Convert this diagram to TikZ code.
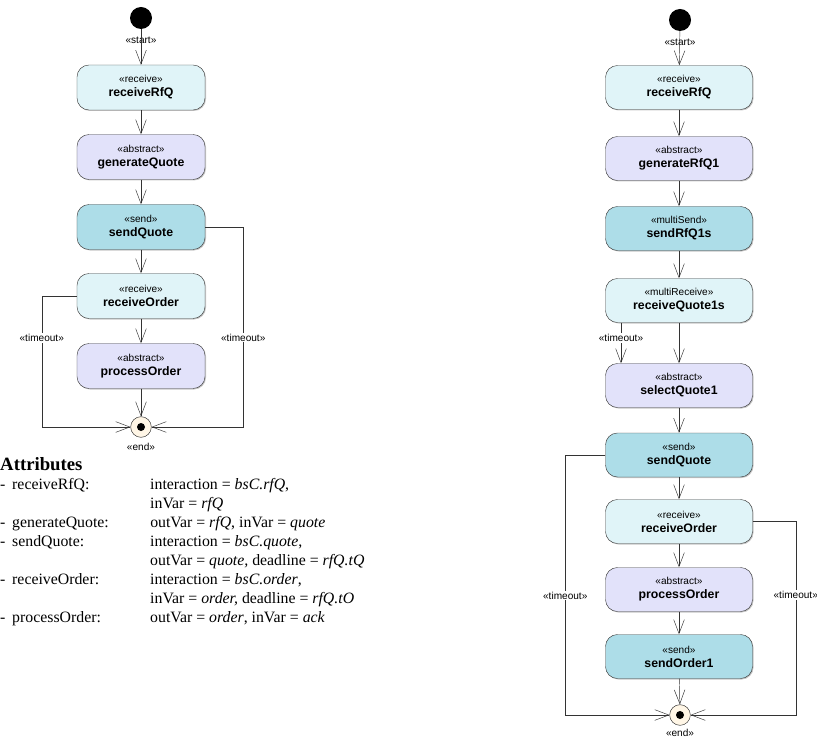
\documentclass[tikz,border=0pt]{standalone}
\usepackage{fontspec}
\setmainfont{Liberation Serif}
\setsansfont{Liberation Sans}
\usetikzlibrary{arrows.meta,shadows}

\definecolor{recvcol}{HTML}{E0F4F8}
\definecolor{abscol}{HTML}{E2E2FA}
\definecolor{sendcol}{HTML}{ADDDE8}
\definecolor{endcol}{HTML}{FFF6E6}

\newcommand{\act}[2]{{\fontsize{8.6}{10}\selectfont«#1»}\\[0pt]{\fontsize{10.5}{12}\selectfont\bfseries #2}}

\tikzset{
  activity/.style={draw=black!75, rounded corners=0.36cm, minimum width=3.84cm,
    minimum height=1.35cm, align=center, font=\sffamily, inner sep=1pt,
    drop shadow={shadow xshift=0.03cm, shadow yshift=-0.03cm, fill=black!45}},
  recv/.style={activity, fill=recvcol},
  absact/.style={activity, fill=abscol},
  sendact/.style={activity, fill=sendcol},
  wide/.style={minimum width=4.41cm, minimum height=1.32cm},
  flow/.style={draw=black!80, -{Straight Barb[length=0.42cm,width=0.32cm]}},
  lbl/.style={font=\sffamily\fontsize{8.6}{10}\selectfont, fill=white, inner sep=1pt},
  tag/.style={font=\sffamily\fontsize{8.6}{10}\selectfont, inner sep=0pt},
  startdot/.style={circle, fill=black, minimum size=0.66cm, inner sep=0pt},
  enddot/.style={circle, draw=black!80, fill=endcol, minimum size=0.62cm, inner sep=0pt},
}

\begin{document}
\begin{tikzpicture}[x=0.03cm, y=-0.03cm]
  \useasboundingbox (0,0) rectangle (817,738);

  % left process
  \node[startdot] (s1) at (141,18) {};
  \node[tag] (s1t) at (141,40) {«start»};
  \node[recv] (rfq1) at (141,87.5) {\act{receive}{receiveRfQ}};
  \node[absact] (gq1) at (141,157) {\act{abstract}{generateQuote}};
  \node[sendact] (sq1) at (141,227) {\act{send}{sendQuote}};
  \node[recv] (ro1) at (141,296) {\act{receive}{receiveOrder}};
  \node[absact] (po1) at (141,366) {\act{abstract}{processOrder}};
  \node[enddot] (e1) at (141,427) {};
  \fill (e1) circle (0.12cm);
  \node[tag] (e1t) at (141,447) {«end»};

  \draw[flow] (s1) -- (rfq1);
  \draw[flow] (rfq1) -- (gq1);
  \draw[flow] (gq1) -- (sq1);
  \draw[flow] (sq1) -- (ro1);
  \draw[flow] (ro1) -- (po1);
  \draw[flow] (po1) -- (e1);
  \draw[flow] (ro1.west) -- ++(-35,0) |- node[lbl, pos=0.16] {«timeout»} (e1.west);
  \draw[flow] (sq1.east) -- ++(38,0) |- node[lbl, pos=0.276] {«timeout»} (e1.east);

  % right process
  \node[startdot] (s2) at (680,20) {};
  \node[tag] (s2t) at (680,42) {«start»};
  \node[recv, wide] (rfq2) at (679,87.5) {\act{receive}{receiveRfQ}};
  \node[absact, wide] (gq2) at (679,158.5) {\act{abstract}{generateRfQ1}};
  \node[sendact, wide] (sr2) at (679,228.5) {\act{multiSend}{sendRfQ1s}};
  \node[recv, wide] (rq2) at (679,300.5) {\act{multiReceive}{receiveQuote1s}};
  \node[absact, wide] (sel2) at (679,385.5) {\act{abstract}{selectQuote1}};
  \node[sendact, wide] (sq2) at (679,455) {\act{send}{sendQuote}};
  \node[recv, wide] (ro2) at (679,521.5) {\act{receive}{receiveOrder}};
  \node[absact, wide] (po2) at (679,589.5) {\act{abstract}{processOrder}};
  \node[sendact, wide] (so2) at (679,656.5) {\act{send}{sendOrder1}};
  \node[enddot] (e2) at (680,715) {};
  \fill (e2) circle (0.12cm);
  \node[tag] (e2t) at (680,733) {«end»};
  \coordinate (tq) at (621,0);

  \draw[flow] (s2) -- (rfq2);
  \draw[flow] (rfq2) -- (gq2);
  \draw[flow] (gq2) -- (sr2);
  \draw[flow] (sr2) -- (rq2);
  \draw[flow] (rq2) -- (sel2);
  \draw[flow] (rq2.south -| tq) -- node[lbl, pos=0.38] {«timeout»} (sel2.north -| tq);
  \draw[flow] (sel2) -- (sq2);
  \draw[flow] (sq2) -- (ro2);
  \draw[flow] (ro2) -- (po2);
  \draw[flow] (po2) -- (so2);
  \draw[flow] (so2) -- (e2);
  \draw[flow] (sq2.west) -- ++(-40,0) |- node[lbl, pos=0.27] {«timeout»} (e2.west);
  \draw[flow] (ro2.east) -- ++(43,0) |- node[lbl, pos=0.19] {«timeout»} (e2.east);

  % attribute list
  \node[anchor=north west, inner sep=0pt, align=left, font=\fontsize{13.5}{16.2}\selectfont] (attr) at (0,457)
    {{\fontsize{16}{16.2}\selectfont\bfseries Attributes}\\[4pt]
     \begin{tabular}{@{}p{0.36cm}@{}p{4.14cm}@{}l@{}}
      - & receiveRfQ: & interaction = \textit{bsC.rfQ},\\
        &             & inVar = \textit{rfQ}\\
      - & generateQuote: & outVar = \textit{rfQ}, inVar = \textit{quote}\\
      - & sendQuote: & interaction = \textit{bsC.quote},\\
        &            & outVar = \textit{quote,} deadline = \textit{rfQ.tQ}\\
      - & receiveOrder: & interaction = \textit{bsC.order},\\
        &               & inVar = \textit{order,} deadline = \textit{rfQ.tO}\\
      - & processOrder: & outVar = \textit{order}, inVar = \textit{ack}
     \end{tabular}};
\end{tikzpicture}
\end{document}
